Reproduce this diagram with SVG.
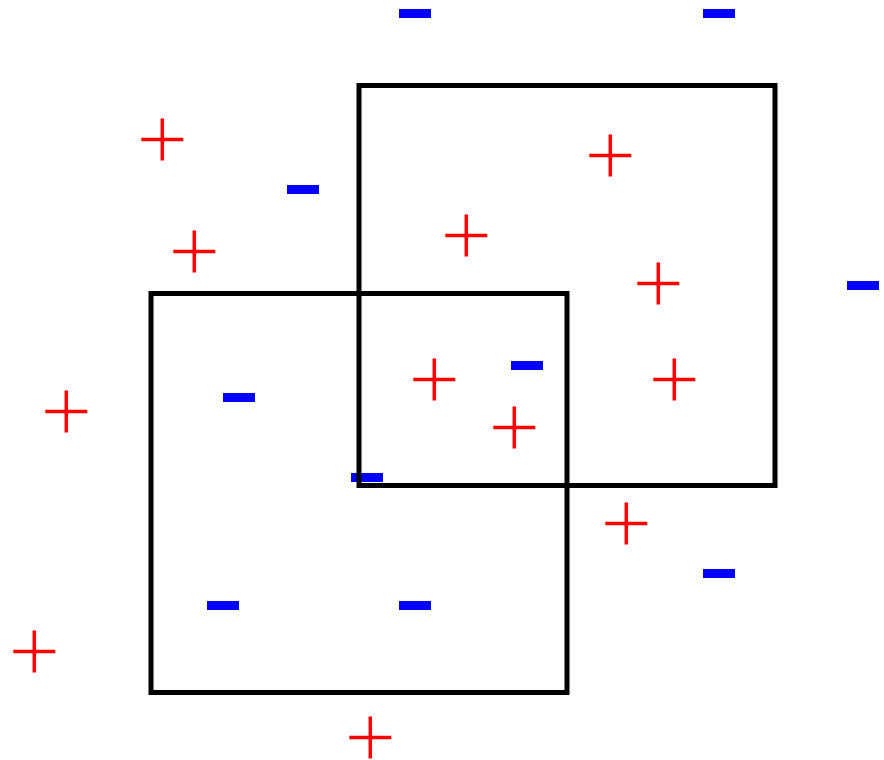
<svg xmlns="http://www.w3.org/2000/svg" width="884" height="760" viewBox="0 0 884 760">
<style>
.plus{stroke:#ff0000;stroke-width:3.5;fill:none}
.minus{fill:#0000ff}
.box{fill:none;stroke:#000;stroke-width:5}
</style>
<defs>
<path id="p" class="plus" d="M-21,0H21M0,-21V21"/>
<rect id="m" class="minus" x="-16" y="-4.5" width="32" height="9"/>
</defs>
<rect width="884" height="760" fill="#fff"/>
<g id="minuses">
<use href="#m" x="415" y="13.5"/>
<use href="#m" x="719" y="13.5"/>
<use href="#m" x="303" y="189.5"/>
<use href="#m" x="863" y="285.5"/>
<use href="#m" x="527" y="365.5"/>
<use href="#m" x="239" y="397.5"/>
<use href="#m" x="367" y="477.5"/>
<use href="#m" x="223" y="605.5"/>
<use href="#m" x="415" y="605.5"/>
<use href="#m" x="719" y="573.5"/>
</g>
<g id="box1"><rect class="box" x="359" y="85.5" width="416" height="400"/></g>
<g id="box2"><rect class="box" x="151" y="293.5" width="416" height="399"/></g>
<g id="pluses">
<use href="#p" x="162.3" y="139.5"/>
<use href="#p" x="194.3" y="251.5"/>
<use href="#p" x="610.3" y="155.5"/>
<use href="#p" x="466.3" y="235.5"/>
<use href="#p" x="658.3" y="283.5"/>
<use href="#p" x="434.3" y="379.5"/>
<use href="#p" x="674.3" y="379.5"/>
<use href="#p" x="514.3" y="427.5"/>
<use href="#p" x="66.3" y="411.5"/>
<use href="#p" x="626.3" y="523.5"/>
<use href="#p" x="34.3" y="651.5"/>
<use href="#p" x="370.3" y="737.5"/>
</g>
<g id="connectors"></g>
</svg>
